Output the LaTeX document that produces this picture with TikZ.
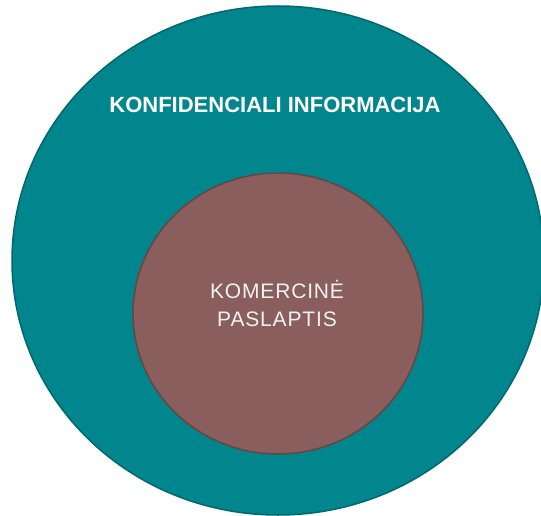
\documentclass[tikz,border=0pt]{standalone}
\usepackage{fontspec}
\setmainfont{Liberation Sans}
\usetikzlibrary{shapes.geometric}
\definecolor{tealfill}{RGB}{0,134,140}
\definecolor{tealline}{RGB}{0,104,110}
\definecolor{brownfill}{RGB}{137,94,92}
\definecolor{brownline}{RGB}{105,68,66}
\definecolor{lighttext}{RGB}{242,242,242}
\tikzset{
  outerell/.style={ellipse, draw=tealline, fill=tealfill, line width=1.5pt, inner sep=0pt},
  innerell/.style={ellipse, draw=brownline, fill=brownfill, line width=1.5pt, inner sep=0pt},
  outerlabel/.style={text=white, font=\fontsize{22pt}{24pt}\selectfont\bfseries, inner sep=0pt},
  innerlabel/.style={text=lighttext, font=\fontsize{21pt}{28pt}\selectfont\addfontfeature{LetterSpace=4}, align=center, inner sep=0pt}
}
\begin{document}
\begin{tikzpicture}[x=1pt,y=-1pt]
\useasboundingbox (0,0) rectangle (541,516);
\clip (0,0) rectangle (541,516);
\node[outerell, minimum width=532pt, minimum height=509pt] (outer) at (278,260.5) {};
\node[innerell, minimum width=290pt, minimum height=281pt] (inner) at (278,313.5) {};
\node[outerlabel] (otext) at (275,105) {KONFIDENCIALI INFORMACIJA};
\node[innerlabel] (itext) at (277,303) {KOMERCINĖ\\PASLAPTIS};
\end{tikzpicture}
\end{document}
